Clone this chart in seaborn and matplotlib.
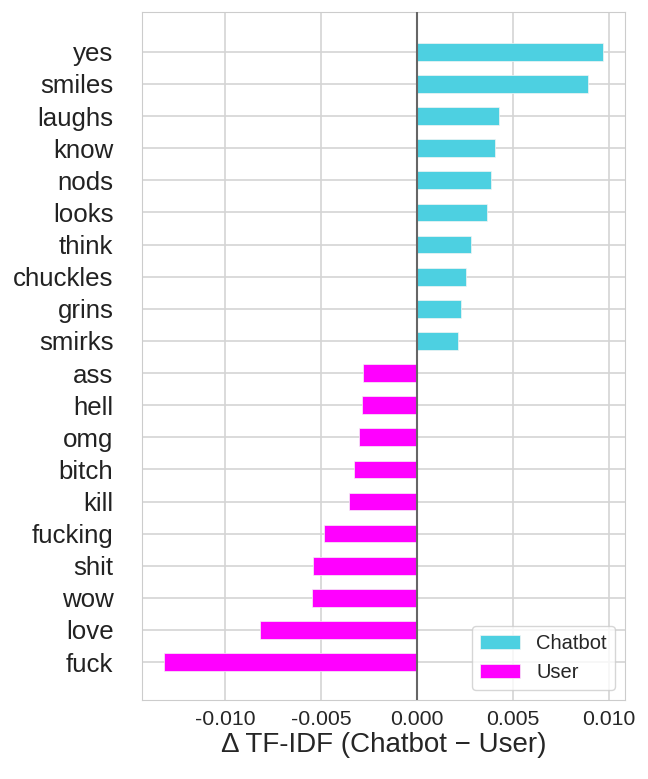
import numpy as np
import pandas as pd
import matplotlib.pyplot as plt
import seaborn as sns

words = ["yes", "smiles", "laughs", "know", "nods", "looks", "think", "chuckles", "grins", "smirks",
         "ass", "hell", "omg", "bitch", "kill", "fucking", "shit", "wow", "love", "fuck"]
delta = [0.00971, 0.00891, 0.00427, 0.00410, 0.00387, 0.00368, 0.00280, 0.00257, 0.00231, 0.00214,
         -0.00281, -0.00285, -0.00300, -0.00330, -0.00354, -0.00484, -0.00544, -0.00545, -0.00820, -0.01320]
groups = ["Chatbot"] * 10 + ["User"] * 10
palette = {"Chatbot": "#4DD0E1", "User": "#FF00FF"}

df = pd.DataFrame({"word": words, "delta": delta, "group": groups})

sns.set_style("whitegrid")
plt.rcParams["font.family"] = ["Liberation Sans", "DejaVu Sans"]

fig = plt.figure(figsize=(6.48, 7.79), dpi=100)
ax = fig.add_axes([0.219, 0.1014, 0.7455, 0.8836])
sns.barplot(data=df, x="delta", y="word", hue="group", palette=palette, dodge=False,
            width=0.55, orient="h", saturation=1, edgecolor="#f4f4f4", linewidth=0.5, ax=ax)
ax.grid(True, axis="both", color="#d4d4d4", lw=1.2)
ax.set_axisbelow(True)
ax.axvline(0, color="#666666", lw=1.5, zorder=3)
ax.set_ylim(19 + 1.18, -1.25)
ax.set_xticks([-0.010, -0.005, 0.0, 0.005, 0.010])
ax.set_xticklabels(["-0.010", "-0.005", "0.000", "0.005", "0.010"])
ax.tick_params(axis="x", labelsize=15.3)
ax.tick_params(axis="y", labelsize=18.6, pad=17, labelcolor="#222222")
ax.set_ylabel("")
ax.set_xlabel("Δ TF-IDF (Chatbot − User)", fontsize=20, labelpad=2)
ax.legend(loc="lower right", fontsize=14.5, title=None)

fig.savefig("out.png", dpi=100)
